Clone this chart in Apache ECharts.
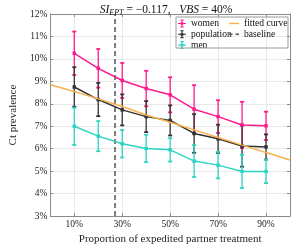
<!DOCTYPE html>
<html><head><meta charset="utf-8">
<script src="https://cdn.jsdelivr.net/npm/echarts@6/dist/echarts.min.js"></script>
<style>html,body{margin:0;padding:0;background:#fff}#c{width:291px;height:250px}</style>
</head><body><div id="c"></div>
<script>
// ---- data ----
const xValues = [10, 20, 30, 40, 50, 60, 70, 80, 90];
const women = [10.25, 9.58, 9.04, 8.68, 8.40, 7.76, 7.43, 7.06, 7.02];
const womenErr = [0.97, 0.86, 0.78, 0.79, 0.78, 1.07, 0.73, 1.03, 0.63];
const population = [8.75, 8.19, 7.73, 7.43, 7.26, 6.68, 6.44, 6.12, 6.08];
const populationErr = [0.88, 0.74, 0.69, 0.69, 0.67, 0.86, 0.63, 0.92, 0.56];
const men = [7.00, 6.56, 6.22, 6.01, 5.95, 5.45, 5.27, 4.99, 4.99];
const menErr = [0.83, 0.67, 0.61, 0.61, 0.52, 0.71, 0.59, 0.74, 0.52];
const fitX = [0, 10, 20, 30, 40, 50, 60, 70, 80, 90, 100];
const fitY = [8.85, 8.55, 8.22, 7.88, 7.50, 7.18, 6.84, 6.50, 6.16, 5.83, 5.50];
const baselineX = 27;
const xTickValues = [10, 30, 50, 70, 90];
const yMin = 3, yMax = 12, yStep = 1;
const xMin = 0, xMax = 100;

const C_W = '#ff1a8c', C_P = '#333333', C_M = '#2ed3c3', C_F = '#f9b24e', C_B = '#555555';
const FONT = 'Liberation Serif';
const ICON_EB = 'path://M0,4.3H10V5.7H0Z M4.3,0H5.7V10H4.3Z M2.8,0H7.2V1.3H2.8Z M2.8,8.7H7.2V10H2.8Z M3.3,3.3H6.7V6.7H3.3Z';
const ICON_LINE = 'path://M0,4.3H10V5.7H0Z';
const ICON_DASH = 'path://M0,4.3H3.5V5.7H0Z M6.5,4.3H10V5.7H6.5Z';

function errSeries(name, vals, errs, color) {
  return {
    type: 'custom', name: name, silent: true, z: 3,
    data: xValues.map((x, i) => [x, vals[i] - errs[i], vals[i] + errs[i]]),
    encode: { x: 0, y: [1, 2] },
    renderItem: function (params, api) {
      const x = api.value(0);
      const lo = api.coord([x, api.value(1)]);
      const hi = api.coord([x, api.value(2)]);
      const cw = 2;
      const st = { stroke: color, lineWidth: 1.3 };
      return { type: 'group', children: [
        { type: 'line', shape: { x1: lo[0], y1: lo[1], x2: hi[0], y2: hi[1] }, style: st },
        { type: 'line', shape: { x1: lo[0] - cw, y1: lo[1], x2: lo[0] + cw, y2: lo[1] }, style: { stroke: color, lineWidth: 1.8 } },
        { type: 'line', shape: { x1: hi[0] - cw, y1: hi[1], x2: hi[0] + cw, y2: hi[1] }, style: { stroke: color, lineWidth: 1.8 } }
      ]};
    }
  };
}
function lineSeries(name, vals, color) {
  return {
    type: 'line', name: name, z: 4,
    data: xValues.map((x, i) => [x, vals[i]]),
    symbol: 'rect', symbolSize: 3.5, showSymbol: true,
    lineStyle: { color: color, width: 1.5 }, itemStyle: { color: color },
    emphasis: { disabled: true }, animation: false
  };
}

const axisLineStyle = { color: '#8a8a8a', width: 1 };
const labelStyle = { fontFamily: FONT, fontSize: 9.5, color: '#262626' };

const option = {
  animation: false,
  backgroundColor: '#fff',
  title: {
    left: 161, top: -2, textAlign: 'center',
    text: '{i|SI}{s|EPT}{n| = −0.117,   }{i|VBS}{n| = 40%}',
    textStyle: {
      fontWeight: 'normal',
      rich: {
        i: { fontFamily: FONT, fontStyle: 'italic', fontWeight: 'normal', fontSize: 11.5, color: '#111' },
        s: { fontFamily: FONT, fontStyle: 'italic', fontWeight: 'normal', fontSize: 8, color: '#111', padding: [6, 0, 0, 0] },
        n: { fontFamily: FONT, fontWeight: 'normal', fontSize: 11.5, color: '#111' }
      }
    }
  },
  grid: { left: 33, right: 1, top: 14, bottom: 25.3 },
  xAxis: [{
    type: 'value', min: xMin, max: xMax, position: 'bottom',
    name: 'Proportion of expedited partner treatment', nameLocation: 'middle', nameGap: 14,
    nameTextStyle: { fontFamily: FONT, fontSize: 11, color: '#262626' },
    axisLine: { show: true, lineStyle: axisLineStyle },
    axisTick: { show: true, inside: true, length: 3, customValues: xTickValues, lineStyle: axisLineStyle },
    axisLabel: { customValues: xTickValues, formatter: '{value}%', margin: 3, ...labelStyle },
    splitLine: { show: true, lineStyle: { color: '#e8e8e8', width: 1 } }
  }, {
    type: 'value', min: xMin, max: xMax, position: 'top',
    axisLine: { show: true, onZero: false, lineStyle: axisLineStyle },
    axisTick: { show: true, inside: true, length: 3, customValues: xTickValues, lineStyle: axisLineStyle },
    axisLabel: { show: false }, splitLine: { show: false }
  }],
  yAxis: [{
    type: 'value', min: yMin, max: yMax, interval: yStep,
    name: 'Ct prevalence', nameLocation: 'middle', nameGap: 22,
    nameTextStyle: { fontFamily: FONT, fontSize: 11, color: '#262626' },
    axisLine: { show: true, lineStyle: axisLineStyle },
    axisTick: { show: true, inside: true, length: 3, lineStyle: axisLineStyle },
    axisLabel: { formatter: '{value}%', margin: 3, ...labelStyle },
    splitLine: { show: true, lineStyle: { color: '#e8e8e8', width: 1 } }
  }, {
    type: 'value', min: yMin, max: yMax, interval: yStep, position: 'right',
    axisLine: { show: true, onZero: false, lineStyle: axisLineStyle },
    axisTick: { show: true, inside: true, length: 3, lineStyle: axisLineStyle },
    axisLabel: { show: false }, splitLine: { show: false }
  }],
  legend: [{
    orient: 'vertical', left: 178, top: 18.5, itemWidth: 8, itemHeight: 9, itemGap: 0.8,
    padding: 0, selectedMode: false,
    textStyle: { fontFamily: FONT, fontSize: 9.5, color: '#111' },
    data: [
      { name: 'women', icon: ICON_EB, itemStyle: { color: C_W } },
      { name: 'population', icon: ICON_EB, itemStyle: { color: C_P } },
      { name: 'men', icon: ICON_EB, itemStyle: { color: C_M } }
    ]
  }, {
    orient: 'vertical', left: 229, top: 18.5, itemWidth: 10, itemHeight: 9, itemGap: 0.8,
    padding: 0, selectedMode: false,
    textStyle: { fontFamily: FONT, fontSize: 9.5, color: '#111' },
    data: [
      { name: 'fitted curve', icon: ICON_LINE, itemStyle: { color: C_F } },
      { name: 'baseline', icon: ICON_DASH, itemStyle: { color: C_B } }
    ]
  }],
  graphic: [{
    type: 'rect', left: 175.5, top: 16.5, z: 100,
    shape: { width: 112, height: 31 },
    style: { fill: 'rgba(255,255,255,0)', stroke: '#9a9a9a', lineWidth: 1 }
  }],
  series: [
    errSeries('women', women, womenErr, C_W),
    lineSeries('women', women, C_W),
    errSeries('population', population, populationErr, C_P),
    lineSeries('population', population, C_P),
    errSeries('men', men, menErr, C_M),
    lineSeries('men', men, C_M),
    {
      type: 'line', name: 'fitted curve', z: 5, showSymbol: false, symbol: 'none',
      data: fitX.map((x, i) => [x, fitY[i]]),
      lineStyle: { color: C_F, width: 1.5 }, itemStyle: { color: C_F }
    },
    {
      type: 'line', name: 'baseline', z: 2, showSymbol: false, symbol: 'none',
      data: [[baselineX, yMin], [baselineX, yMax]],
      lineStyle: { color: C_B, width: 1.5, type: [5, 3] }, itemStyle: { color: C_B }
    }
  ]
};
const chart = echarts.init(document.getElementById('c'), null, { renderer: 'canvas' });
chart.setOption(option);
</script></body></html>
